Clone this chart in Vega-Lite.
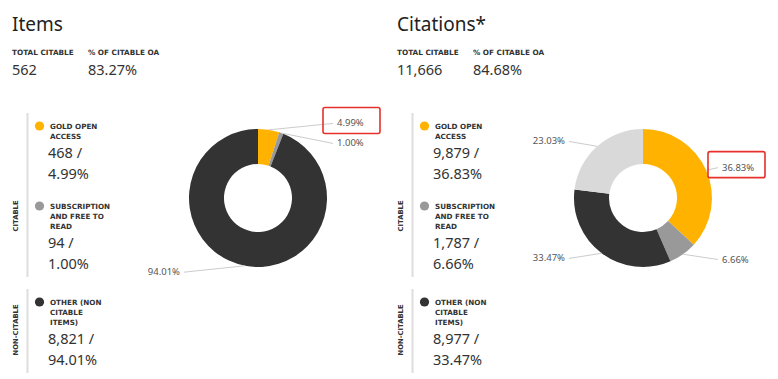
{
  "$schema": "https://vega.github.io/schema/vega-lite/v6.json",
  "width": 770,
  "height": 379,
  "padding": 0,
  "background": "white",
  "data": {
    "values": [
      {"panel": "Items", "kind": "title", "text": "Items"},
      {"panel": "Items", "kind": "stat", "stat": "TOTAL CITABLE", "value": "562"},
      {"panel": "Items", "kind": "stat", "stat": "\u0025 OF CITABLE OA", "value": "83.27\u0025"},
      {"panel": "Items", "kind": "slice", "order": 1, "category": "Gold open access", "label": ["GOLD OPEN", "ACCESS"], "count": 468, "pct": 4.99, "group": "CITABLE"},
      {"panel": "Items", "kind": "slice", "order": 2, "category": "Subscription and free to read", "label": ["SUBSCRIPTION", "AND FREE TO", "READ"], "count": 94, "pct": 1.00, "group": "CITABLE"},
      {"panel": "Items", "kind": "slice", "order": 3, "category": "Other (non citable items)", "label": ["OTHER (NON", "CITABLE", "ITEMS)"], "count": 8821, "pct": 94.01, "group": "NON-CITABLE"},
      {"panel": "Citations", "kind": "title", "text": "Citations*"},
      {"panel": "Citations", "kind": "stat", "stat": "TOTAL CITABLE", "value": "11,666"},
      {"panel": "Citations", "kind": "stat", "stat": "\u0025 OF CITABLE OA", "value": "84.68\u0025"},
      {"panel": "Citations", "kind": "slice", "order": 1, "category": "Gold open access", "label": ["GOLD OPEN", "ACCESS"], "count": 9879, "pct": 36.83, "group": "CITABLE"},
      {"panel": "Citations", "kind": "slice", "order": 2, "category": "Subscription and free to read", "label": ["SUBSCRIPTION", "AND FREE TO", "READ"], "count": 1787, "pct": 6.66, "group": "CITABLE"},
      {"panel": "Citations", "kind": "slice", "order": 3, "category": "Other (non citable items)", "label": ["OTHER (NON", "CITABLE", "ITEMS)"], "count": 8977, "pct": 33.47, "group": "NON-CITABLE"},
      {"panel": "Citations", "kind": "slice", "order": 4, "category": "Other citable", "pct": 23.03, "group": "CITABLE"}
    ]
  },
  "transform": [
    {"calculate": "datum.panel == 'Citations' ? 385 : 0", "as": "off"}
  ],
  "layer": [
    {
      "transform": [
        {"filter": "datum.kind == 'title'"},
        {"calculate": "datum.off + 12", "as": "tx"}
      ],
      "mark": {"type": "text", "align": "left", "baseline": "alphabetic", "font": "Noto Sans", "fontSize": 19, "color": "rgb(34,34,34)"},
      "encoding": {
        "x": {"field": "tx", "type": "quantitative", "scale": {"type": "linear", "domain": [0, 770], "range": [0, 770], "zero": false, "nice": false}, "axis": null},
        "y": {"value": 31},
        "text": {"field": "text", "type": "nominal"}
      }
    },
    {
      "transform": [
        {"filter": "datum.kind == 'stat'"},
        {"calculate": "datum.off + (datum.stat == 'TOTAL CITABLE' ? 12 : 88)", "as": "sx"}
      ],
      "layer": [
        {
          "mark": {"type": "text", "align": "left", "baseline": "alphabetic", "font": "DejaVu Sans", "fontWeight": "bold", "fontSize": 7.3, "color": "rgb(51,51,51)"},
          "encoding": {
            "x": {"field": "sx", "type": "quantitative", "scale": {"type": "linear", "domain": [0, 770], "range": [0, 770], "zero": false, "nice": false}, "axis": null},
            "y": {"value": 55},
            "text": {"field": "stat", "type": "nominal"}
          }
        },
        {
          "mark": {"type": "text", "align": "left", "baseline": "alphabetic", "font": "Noto Sans", "fontSize": 14.5, "color": "rgb(51,51,51)"},
          "encoding": {
            "x": {"field": "sx", "type": "quantitative", "scale": {"type": "linear", "domain": [0, 770], "range": [0, 770], "zero": false, "nice": false}, "axis": null},
            "y": {"value": 75},
            "text": {"field": "value", "type": "nominal"}
          }
        }
      ]
    },
    {
      "transform": [
        {"filter": "datum.kind == 'slice' && isValid(datum.count)"},
        {"calculate": "length(datum.label)", "as": "nl"},
        {"calculate": "datum.nl * 10 + 60", "as": "h"},
        {"stack": "h", "groupby": ["panel"], "sort": [{"field": "order", "order": "ascending"}], "as": ["prevH", "endH"]},
        {"calculate": "126 + datum.prevH + (datum.group == 'NON-CITABLE' ? 6 : 0)", "as": "ly"},
        {"calculate": "datum.ly + 2.5", "as": "lby"},
        {"calculate": "datum.ly + datum.nl * 10 + 11.5", "as": "ny"},
        {"calculate": "datum.ly + datum.nl * 10 + 41", "as": "bot"},
        {"calculate": "datum.off + 39.5", "as": "dotx"},
        {"calculate": "datum.off + 50", "as": "labx"},
        {"calculate": "datum.off + 48", "as": "numx"},
        {"calculate": "[format(datum.count, ',') + ' /', format(datum.pct, '.2f') + '\u0025']", "as": "numtext"}
      ],
      "layer": [
        {
          "mark": {"type": "point", "filled": true, "opacity": 1, "size": 85},
          "encoding": {
            "x": {"field": "dotx", "type": "quantitative", "scale": {"type": "linear", "domain": [0, 770], "range": [0, 770], "zero": false, "nice": false}, "axis": null},
            "y": {"field": "ly", "type": "quantitative", "scale": {"type": "linear", "domain": [0, 379], "range": [0, 379], "zero": false, "nice": false}, "axis": null},
            "color": {"field": "category", "type": "nominal", "scale": {"domain": ["Gold open access", "Subscription and free to read", "Other (non citable items)", "Other citable"], "range": ["rgb(255,179,0)", "rgb(153,153,153)", "rgb(51,51,51)", "rgb(217,217,217)"]}, "legend": null}
          }
        },
        {
          "mark": {"type": "text", "align": "left", "baseline": "alphabetic", "lineHeight": 10, "font": "DejaVu Sans", "fontWeight": "bold", "fontSize": 7.2, "color": "rgb(51,51,51)"},
          "encoding": {
            "x": {"field": "labx", "type": "quantitative", "scale": {"type": "linear", "domain": [0, 770], "range": [0, 770], "zero": false, "nice": false}, "axis": null},
            "y": {"field": "lby", "type": "quantitative", "scale": {"type": "linear", "domain": [0, 379], "range": [0, 379], "zero": false, "nice": false}, "axis": null},
            "text": {"field": "label", "type": "nominal"}
          }
        },
        {
          "mark": {"type": "text", "align": "left", "baseline": "alphabetic", "lineHeight": 21.5, "font": "Noto Sans", "fontSize": 14.5, "color": "rgb(51,51,51)"},
          "encoding": {
            "x": {"field": "numx", "type": "quantitative", "scale": {"type": "linear", "domain": [0, 770], "range": [0, 770], "zero": false, "nice": false}, "axis": null},
            "y": {"field": "ny", "type": "quantitative", "scale": {"type": "linear", "domain": [0, 379], "range": [0, 379], "zero": false, "nice": false}, "axis": null},
            "text": {"field": "numtext", "type": "nominal"}
          }
        },
        {
          "transform": [
            {"aggregate": [{"op": "min", "field": "ly", "as": "top"}, {"op": "max", "field": "bot", "as": "bottom"}, {"op": "min", "field": "off", "as": "goff"}], "groupby": ["panel", "group"]},
            {"calculate": "datum.top - 13", "as": "y0"},
            {"calculate": "0.286 * datum.y0 + 0.663 * datum.bottom", "as": "gy"},
            {"calculate": "datum.goff + 27.5", "as": "rx"},
            {"calculate": "datum.goff + 15.5", "as": "gx"}
          ],
          "layer": [
            {
              "mark": {"type": "rule", "color": "rgb(221,221,221)", "strokeWidth": 2},
              "encoding": {
                "x": {"field": "rx", "type": "quantitative", "scale": {"type": "linear", "domain": [0, 770], "range": [0, 770], "zero": false, "nice": false}, "axis": null},
                "y": {"field": "y0", "type": "quantitative", "scale": {"type": "linear", "domain": [0, 379], "range": [0, 379], "zero": false, "nice": false}, "axis": null},
                "y2": {"field": "bottom"}
              }
            },
            {
              "mark": {"type": "text", "angle": 270, "align": "center", "baseline": "middle", "font": "DejaVu Sans", "fontWeight": "bold", "fontSize": 6.8, "color": "rgb(51,51,51)"},
              "encoding": {
                "x": {"field": "gx", "type": "quantitative", "scale": {"type": "linear", "domain": [0, 770], "range": [0, 770], "zero": false, "nice": false}, "axis": null},
                "y": {"field": "gy", "type": "quantitative", "scale": {"type": "linear", "domain": [0, 379], "range": [0, 379], "zero": false, "nice": false}, "axis": null},
                "text": {"field": "group", "type": "nominal"}
              }
            }
          ]
        }
      ]
    },
    {
      "transform": [
        {"filter": "datum.kind == 'slice'"},
        {"stack": "pct", "groupby": ["panel"], "sort": [{"field": "order", "order": "ascending"}], "as": ["cum0", "cum"]},
        {"calculate": "(datum.cum0 + datum.pct / 2) / 100 * 2 * PI", "as": "mid"},
        {"calculate": "sin(datum.mid) >= 0 ? 'right' : 'left'", "as": "side"},
        {"calculate": "198 - 75.5 * cos(datum.mid)", "as": "ly0"},
        {"joinaggregate": [{"op": "min", "field": "ly0", "as": "minY"}], "groupby": ["panel", "side"]},
        {"calculate": "datum.ly0 > datum.minY && datum.ly0 - datum.minY < 20 ? datum.minY + 20 : datum.ly0", "as": "ly"},
        {"calculate": "datum.off + 258", "as": "acx"},
        {"calculate": "datum.off + (datum.side == 'right' ? 337 : 180)", "as": "lx"},
        {"calculate": "datum.off + (datum.side == 'right' ? 333 : 184)", "as": "tx"},
        {"calculate": "datum.acx + 69 * sin(datum.mid)", "as": "ex"},
        {"calculate": "198 - 69 * cos(datum.mid)", "as": "ey"},
        {"calculate": "format(datum.pct, '.2f') + '\u0025'", "as": "ptxt"}
      ],
      "layer": [
        {
          "transform": [{"filter": "datum.panel == 'Items'"}],
          "mark": {"type": "arc", "innerRadius": 34, "outerRadius": 69},
          "encoding": {
            "x": {"value": 258},
            "y": {"value": 198},
            "theta": {"field": "cum0", "type": "quantitative", "scale": {"type": "linear", "domain": [0, 100], "range": [0, 6.283185307179586], "zero": false, "nice": false}},
            "theta2": {"field": "cum"},
            "color": {"field": "category", "type": "nominal", "scale": {"domain": ["Gold open access", "Subscription and free to read", "Other (non citable items)", "Other citable"], "range": ["rgb(255,179,0)", "rgb(153,153,153)", "rgb(51,51,51)", "rgb(217,217,217)"]}, "legend": null}
          }
        },
        {
          "transform": [{"filter": "datum.panel == 'Citations'"}],
          "mark": {"type": "arc", "innerRadius": 34, "outerRadius": 69},
          "encoding": {
            "x": {"value": 643},
            "y": {"value": 198},
            "theta": {"field": "cum0", "type": "quantitative", "scale": {"type": "linear", "domain": [0, 100], "range": [0, 6.283185307179586], "zero": false, "nice": false}},
            "theta2": {"field": "cum"},
            "color": {"field": "category", "type": "nominal", "scale": {"domain": ["Gold open access", "Subscription and free to read", "Other (non citable items)", "Other citable"], "range": ["rgb(255,179,0)", "rgb(153,153,153)", "rgb(51,51,51)", "rgb(217,217,217)"]}, "legend": null}
          }
        },
        {
          "mark": {"type": "rule", "color": "rgb(204,204,204)", "strokeWidth": 1},
          "encoding": {
            "x": {"field": "ex", "type": "quantitative", "scale": {"type": "linear", "domain": [0, 770], "range": [0, 770], "zero": false, "nice": false}, "axis": null},
            "y": {"field": "ey", "type": "quantitative", "scale": {"type": "linear", "domain": [0, 379], "range": [0, 379], "zero": false, "nice": false}, "axis": null},
            "x2": {"field": "tx"},
            "y2": {"field": "ly"}
          }
        },
        {
          "transform": [{"filter": "datum.side == 'right'"}],
          "mark": {"type": "text", "align": "left", "baseline": "middle", "font": "Noto Sans", "fontSize": 9.5, "color": "rgb(85,85,85)"},
          "encoding": {
            "x": {"field": "lx", "type": "quantitative", "scale": {"type": "linear", "domain": [0, 770], "range": [0, 770], "zero": false, "nice": false}, "axis": null},
            "y": {"field": "ly", "type": "quantitative", "scale": {"type": "linear", "domain": [0, 379], "range": [0, 379], "zero": false, "nice": false}, "axis": null},
            "text": {"field": "ptxt", "type": "nominal"}
          }
        },
        {
          "transform": [{"filter": "datum.side == 'left'"}],
          "mark": {"type": "text", "align": "right", "baseline": "middle", "font": "Noto Sans", "fontSize": 9.5, "color": "rgb(85,85,85)"},
          "encoding": {
            "x": {"field": "lx", "type": "quantitative", "scale": {"type": "linear", "domain": [0, 770], "range": [0, 770], "zero": false, "nice": false}, "axis": null},
            "y": {"field": "ly", "type": "quantitative", "scale": {"type": "linear", "domain": [0, 379], "range": [0, 379], "zero": false, "nice": false}, "axis": null},
            "text": {"field": "ptxt", "type": "nominal"}
          }
        },
        {
          "transform": [
            {"filter": "datum.category == 'Gold open access'"},
            {"calculate": "datum.lx - 14", "as": "bx0"},
            {"calculate": "datum.lx + 43", "as": "bx1"},
            {"calculate": "datum.ly - 16", "as": "by0"},
            {"calculate": "datum.ly + 10", "as": "by1"}
          ],
          "mark": {"type": "rect", "filled": false, "stroke": "rgb(229,48,43)", "strokeWidth": 1.6, "cornerRadius": 2},
          "encoding": {
            "x": {"field": "bx0", "type": "quantitative", "scale": {"type": "linear", "domain": [0, 770], "range": [0, 770], "zero": false, "nice": false}, "axis": null},
            "x2": {"field": "bx1"},
            "y": {"field": "by0", "type": "quantitative", "scale": {"type": "linear", "domain": [0, 379], "range": [0, 379], "zero": false, "nice": false}, "axis": null},
            "y2": {"field": "by1"}
          }
        }
      ]
    }
  ],
  "config": {"view": {"stroke": null}}
}
